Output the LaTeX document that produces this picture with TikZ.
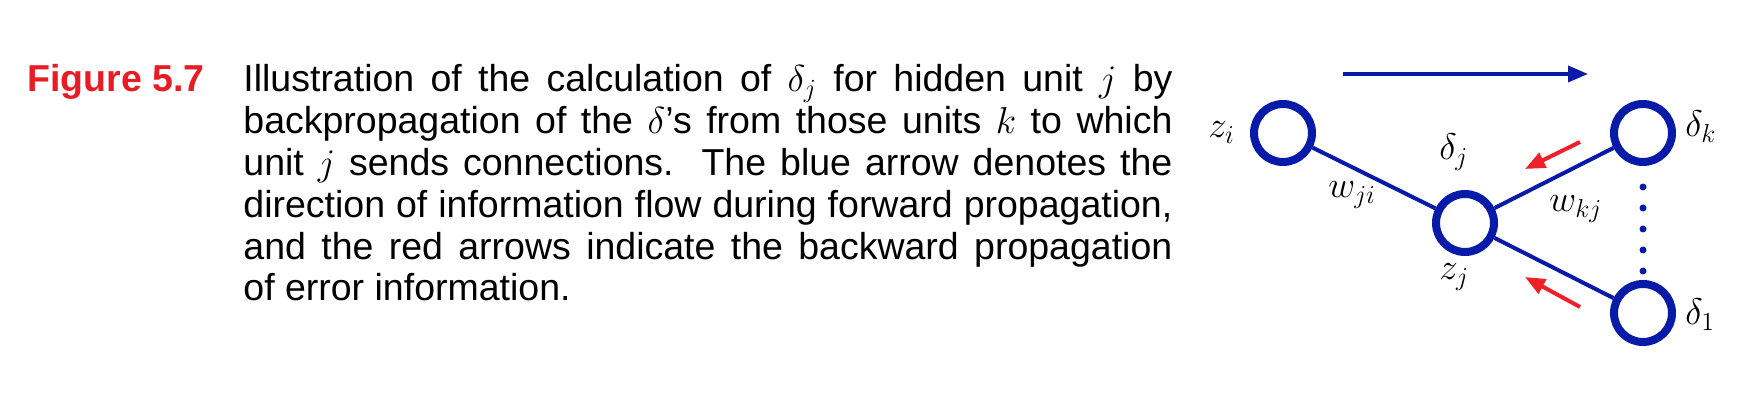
\RequirePackage{fix-cm}
\documentclass[tikz,border=0pt]{standalone}
\usepackage{fontspec}
\setmainfont{Liberation Sans}
\usetikzlibrary{arrows.meta}
\definecolor{netblue}{RGB}{8,26,168}
\definecolor{errred}{RGB}{238,32,40}
\definecolor{figred}{RGB}{232,28,36}
\tikzset{
  unit/.style={circle, draw=netblue, line width=4pt, minimum size=29pt, inner sep=0pt},
  link/.style={draw=netblue, line width=2pt},
  fwd/.style={draw=netblue, line width=1.8pt, -{Triangle[length=10pt,width=8pt]}},
  bwd/.style={draw=errred, line width=2pt, -{Triangle[length=10pt,width=8pt]}},
  lbl/.style={inner sep=0pt, anchor=base west, font=\fontsize{18.5}{20}\selectfont},
  dots/.style={draw=netblue, line width=3.5pt, line cap=round, dash pattern=on 0pt off 10.5pt}
}
\begin{document}
\begin{tikzpicture}[x=0.5pt,y=-0.5pt]
\useasboundingbox (0,0) rectangle (1758,400);
% caption
\node[anchor=base west, inner sep=0pt, text=figred, font=\fontsize{18.75}{20.9}\selectfont\bfseries] (figlab) at (27,92) {Figure 5.7};
\node[anchor=base west, inner sep=0pt, font=\fontsize{18.75}{20.9}\selectfont] (caption) at (243,92)
{\parbox[t]{464.5pt}{Illustration of the calculation of $\delta_j$ for hidden unit $j$ by\linebreak
backpropagation of the $\delta$'s from those units $k$ to which\linebreak
unit $j$ sends connections.\ \ The blue arrow denotes the\linebreak
direction of information flow during forward propagation,\linebreak
and the red arrows indicate the backward propagation\linebreak
of error information.}};
% units
\node[unit] (zi) at (1283,133) {};
\node[unit] (zj) at (1465,223) {};
\node[unit] (dk) at (1643,133) {};
\node[unit] (d1) at (1643,313) {};
% links
\draw[link] (zi) -- (zj);
\draw[link] (zj) -- (dk);
\draw[link] (zj) -- (d1);
\draw[dots, shorten <=10.5pt, shorten >=4pt] (dk) -- (d1);
% arrows
\coordinate (fa) at (1343,74);
\coordinate (fb) at (1588,74);
\draw[fwd] (fa) -- (fb);
\coordinate (ra1) at (1580,142);
\coordinate (rb1) at (1525,169);
\draw[bwd] (ra1) -- (rb1);
\coordinate (ra2) at (1580,307);
\coordinate (rb2) at (1525,277);
\draw[bwd] (ra2) -- (rb2);
% labels
\node[lbl] (lzi) at (1208,138) {$z_i$};
\node[lbl] (ldj) at (1439,160) {$\delta_j$};
\node[lbl] (lwkj) at (1549,212) {$w_{kj}$};
\node[lbl] (lzj) at (1439,280) {$z_j$};
\node[lbl] (ldk) at (1685,137) {$\delta_k$};
\node[lbl] (ld1) at (1685,325) {$\delta_1$};
\node[lbl] (lwji) at (1328,198) {$w_{ji}$};
\end{tikzpicture}
\end{document}
